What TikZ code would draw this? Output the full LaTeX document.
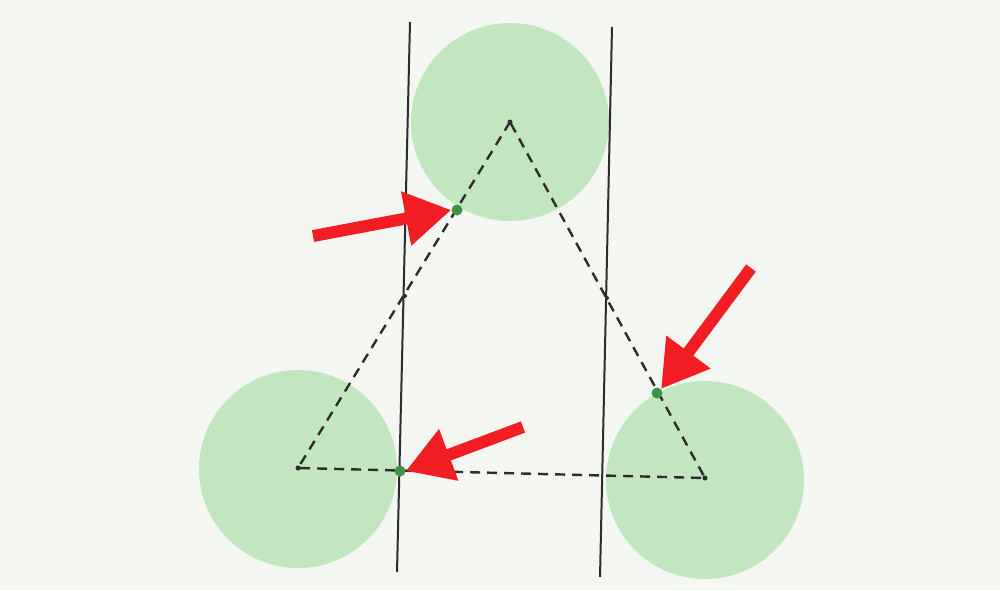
\documentclass[tikz,border=0pt]{standalone}
\usetikzlibrary{arrows.meta}
\definecolor{bg}{HTML}{F4F6F1}
\definecolor{disc}{HTML}{C2E6C0}
\definecolor{dotg}{HTML}{3F9448}
\definecolor{lineg}{HTML}{2C2C2C}
\definecolor{arrred}{HTML}{F21E24}
\tikzset{
  discnode/.style={circle,fill=disc,minimum size=198pt,inner sep=0pt,draw=none},
  gdot/.style={circle,fill=dotg,minimum size=11pt,inner sep=0pt},
  kdot/.style={circle,fill=lineg,minimum size=4pt,inner sep=0pt},
  vdot/.style={circle,fill=lineg,minimum size=5pt,inner sep=0pt},
  wall/.style={draw=lineg,line width=2pt},
  tri/.style={draw=lineg,line width=2.4pt,dash pattern=on 10pt off 7pt},
  redarrow/.style={draw=arrred,line width=12pt,-{Triangle[length=46pt,width=52pt]}}
}
\begin{document}
\begin{tikzpicture}[x=1pt,y=-1pt]
\fill[bg] (0,0) rectangle (1000,590);
\useasboundingbox (0,0) rectangle (1000,590);
% discs
\node[discnode] (dA) at (510,122) {};
\node[discnode] (dB) at (298,469) {};
\node[discnode] (dC) at (705,480) {};
% walls
\coordinate (w1t) at (410,22);
\coordinate (w1b) at (397,572);
\coordinate (w2t) at (612,27);
\coordinate (w2b) at (600,577);
\draw[wall] (w1t) -- (w1b);
\draw[wall] (w2t) -- (w2b);
% triangle
\node[vdot] (A) at (510,122) {};
\node[vdot] (B) at (298,468) {};
\node[vdot] (C) at (705,478) {};
\draw[tri] (A.center) -- (B.center) -- (C.center) -- cycle;
% crossing marks
\node[kdot] (k1) at (405,296) {};
\node[kdot] (k2) at (607,298) {};
% green dots
\node[gdot] (p1) at (457,210) {};
\node[gdot] (p2) at (400,471) {};
\node[gdot] (p3) at (657,393) {};
% red arrows
\coordinate (t1) at (313,236);
\coordinate (t2) at (751,268);
\coordinate (t3) at (523,427);
\draw[redarrow] (t1) -- (p1.west);
\draw[redarrow] (t2) -- (p3.north east);
\draw[redarrow] (t3) -- (p2.east);
\end{tikzpicture}
\end{document}
